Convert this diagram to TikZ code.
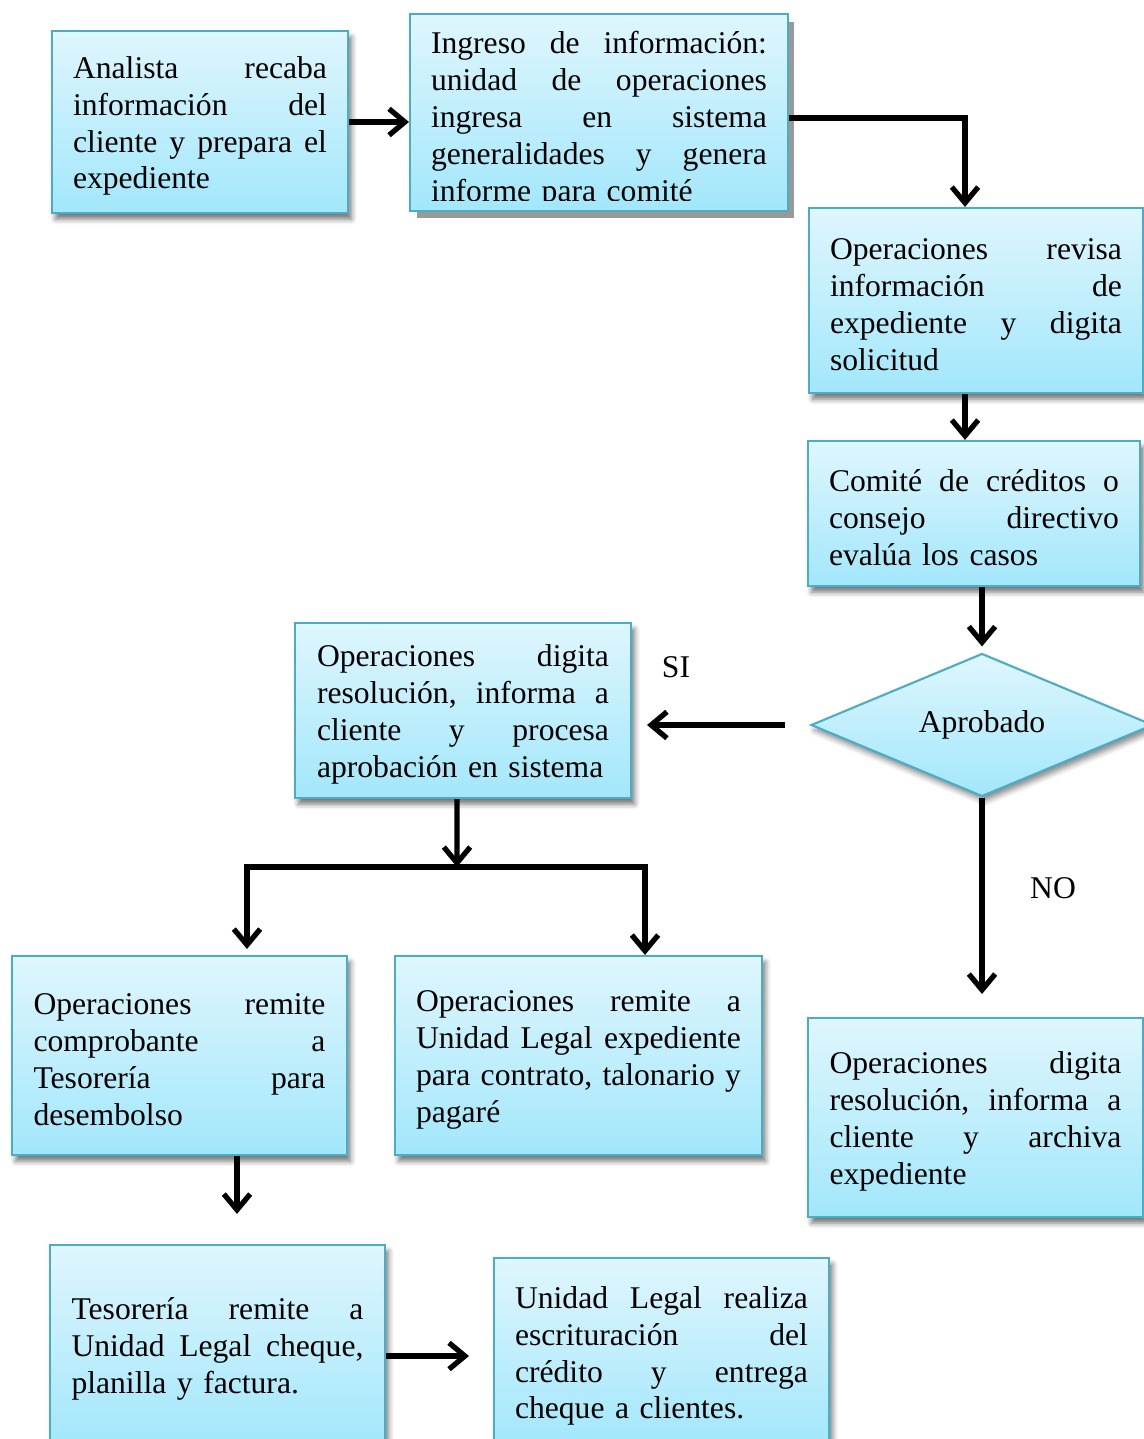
\documentclass[tikz,border=0pt]{standalone}
\usepackage{fontspec}
\setmainfont{Liberation Serif}
\usetikzlibrary{arrows.meta,shapes.geometric,shadows,shadows.blur}

\definecolor{boxtop}{HTML}{DFF6FD}
\definecolor{boxbot}{HTML}{A2E7FB}
\definecolor{boxline}{HTML}{4BACC6}

% gap of a justified line
\newcommand\g{\hfill\ }

\tikzset{
  boxbase/.style={draw=boxline, line width=1.2pt, top color=boxtop, bottom color=boxbot,
    inner sep=0pt, align=left, execute at begin node={\rule{0pt}{17pt}}},
  flowbox/.style={boxbase, blur shadow={shadow xshift=2pt, shadow yshift=-3.5pt,
    shadow blur radius=3pt, shadow opacity=55}},
  hardbox/.style={draw=boxline, line width=1.2pt, top color=boxtop, bottom color=boxbot,
    inner sep=0pt, drop shadow={shadow xshift=0.13cm, shadow yshift=-0.15cm,
    fill=black!40, opacity=1}},
  decision/.style={diamond, aspect=2.3, draw=boxline, line width=1.2pt, top color=boxtop,
    bottom color=boxbot, inner sep=0pt, minimum width=6.84cm, minimum height=2.86cm,
    blur shadow={shadow xshift=1.5pt, shadow yshift=-3pt, shadow blur radius=3pt,
    shadow opacity=45}},
  arr/.style={line width=3pt, -{Straight Barb[length=9pt,width=15pt,line width=3pt]}},
}

\begin{document}
\begin{tikzpicture}[x=0.02cm, y=-0.02cm, font=\fontsize{18}{21}\selectfont]
\useasboundingbox (0,0) rectangle (1143,1439);

% top row
\node[flowbox, minimum width=5.92cm, minimum height=3.64cm, text width=5.08cm] (b1) at (200,122)
  {Analista\g recaba\\ información\g del\\ cliente\g y\g prepara\g el\\ expediente};

\node[hardbox, minimum width=7.56cm, minimum height=3.94cm] (b2) at (599,112.5) {};
\begin{scope}
  \clip (410,14) rectangle (788,201);
  \node[inner sep=0pt, text width=6.72cm, align=left] (b2t) at (599,120)
    {Ingreso\g de\g información:\\ unidad\g de\g operaciones\\ ingresa\g en\g sistema\\
     generalidades\g y\g genera\\ informe para comité};
\end{scope}

% right column
\node[flowbox, minimum width=6.68cm, minimum height=3.70cm, text width=5.84cm] (b3) at (976,300.5)
  {Operaciones\g revisa\\ información\g de\\ expediente\g y\g digita\\ solicitud};

\node[flowbox, minimum width=6.64cm, minimum height=2.90cm, text width=5.80cm] (b4) at (974,513.5)
  {Comité\g de\g créditos\g o\\ consejo\g directivo\\ evalúa los casos};

\node[decision] (dec) at (982,725) {\raisebox{4pt}{Aprobado}};

\node[flowbox, minimum width=6.72cm, minimum height=3.50cm, text width=5.84cm] (b6) at (463,710.5)
  {Operaciones\g digita\\ resolución,\g informa\g a\\ cliente\g y\g procesa\\ aprobación en sistema};

\node[flowbox, minimum width=6.70cm, minimum height=3.98cm, text width=5.84cm] (b9) at (975.5,1117.5)
  {Operaciones\g digita\\ resolución,\g informa\g a\\ cliente\g y\g archiva\\ expediente};

% lower rows
\node[flowbox, minimum width=6.70cm, minimum height=3.98cm, text width=5.84cm] (b7) at (179.5,1055.5)
  {Operaciones\g remite\\ comprobante\g a\\ Tesorería\g para\\ desembolso};

\node[flowbox, minimum width=7.34cm, minimum height=3.98cm, text width=6.50cm] (b8) at (578.5,1055.5)
  {Operaciones\g remite\g a\\ Unidad\g Legal\g expediente\\ para\hfill contrato,\hfill talonario\hfill y\\ pagaré};

\node[flowbox, minimum width=6.70cm, minimum height=4.00cm, text width=5.84cm] (b10) at (217.5,1345)
  {Tesorería\g remite\g a\\ Unidad\g Legal\g cheque,\\ planilla y factura.};

\node[flowbox, minimum width=6.70cm, minimum height=3.76cm, text width=5.86cm] (b11) at (661.5,1352)
  {Unidad\g Legal\g realiza\\ escrituración\g del\\ crédito\g y\g entrega\\ cheque a clientes.};

% branch labels
\node (si) at (676,667) {SI};
\node (no) at (1053,888) {NO};

% connectors
\draw[arr] (b1.east) -- (b1.east -| b2.west);
\draw[arr] ([yshift=-0.11cm]b2.east) -| ([xshift=-0.22cm]b3.north);
\draw[arr] ([xshift=-0.22cm]b3.south) -- ([xshift=-0.22cm]b3.south |- b4.north);
\draw[arr] (b4.south -| dec.north) -- ([yshift=0.12cm]dec.north);
\draw[arr] ([xshift=-0.5cm]dec.west) -- ([xshift=0.3cm]dec.west -| b6.east);
\draw[arr] (dec.south) -- ([yshift=0.46cm]dec.south |- b9.north);

\coordinate (j) at (457,867);
\coordinate (jl) at (247,867);
\coordinate (jr) at (645,867);
\draw[arr] ([xshift=-0.12cm]b6.south) -- (j);
\draw[arr] (j) -- (jl) -- ([yshift=0.12cm]jl |- b7.north);
\draw[arr] (j) -- (jr) -- (jr |- b8.north);

\draw[arr] ([xshift=1.15cm]b7.south) -- ([xshift=1.15cm,yshift=0.6cm]b7.south |- b10.north);
\draw[arr] ([yshift=-0.22cm]b10.east) -- ([xshift=-0.48cm,yshift=-0.22cm]b11.west |- b10.east);
\end{tikzpicture}
\end{document}
